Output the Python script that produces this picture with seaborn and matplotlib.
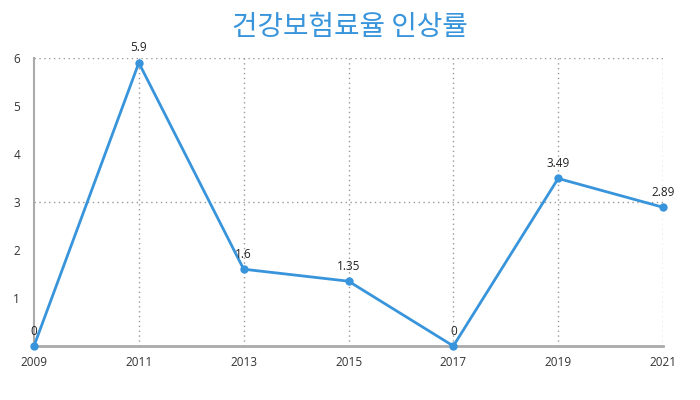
import matplotlib
matplotlib.use("Agg")
import matplotlib.pyplot as plt
import seaborn as sns
import pandas as pd

years = [2009, 2011, 2013, 2015, 2017, 2019, 2021]
rates = [0, 5.9, 1.6, 1.35, 0, 3.49, 2.89]
labels = ["0", "5.9", "1.6", "1.35", "0", "3.49", "2.89"]
title = "건강보험료율 인상률"

sns.set_style("white")
plt.rcParams['font.family'] = ['Open Sans', 'Noto Sans CJK KR', 'DejaVu Sans']

color = "#3894db"
df = pd.DataFrame({"year": years, "rate": rates})

fig = plt.figure(figsize=(7, 4), dpi=100)
ax = fig.add_axes([34/700, 1-346/400, (663-34)/700, (346-58)/400])

sns.lineplot(data=df, x="year", y="rate", ax=ax, color=color, linewidth=2,
             marker="o", markersize=6, markeredgewidth=0, clip_on=False, zorder=5)

for x, y, t in zip(years, rates, labels):
    ax.annotate(t, (x, y), xytext=(0, 6), textcoords="offset points",
                ha="center", va="bottom", fontsize=8.5, color="#222222", zorder=6)

ax.set_xlim(2009, 2021)
ax.set_ylim(0, 6)
ax.set_xticks(years)
ax.set_xticklabels([str(y) for y in years])
ax.set_yticks([1, 2, 3, 4, 5, 6])
ax.set_xlabel("")
ax.set_ylabel("")

for x in years[1:]:
    ax.axvline(x, color="#999999", linestyle=(0, (1, 2.5)), linewidth=1, zorder=1)
for y in [3, 6]:
    ax.axhline(y, color="#999999", linestyle=(0, (1, 2.5)), linewidth=1, zorder=1)

for s in ["top", "right"]:
    ax.spines[s].set_visible(False)
ax.spines["left"].set_color("#aaaaaa")
ax.spines["left"].set_linewidth(1.5)
ax.spines["bottom"].set_color("#aaaaaa")
ax.spines["bottom"].set_linewidth(2)

ax.tick_params(axis="both", labelsize=8.5, colors="#333333", length=2, width=0.8)
ax.tick_params(axis="y", pad=8, color="#cccccc")
ax.tick_params(axis="x", length=0, pad=7)

fig.text(0.5, 1-27/400, title, ha="center", va="center", fontsize=20,
         color=color, family=['Noto Sans CJK KR', 'DejaVu Sans'])

fig.savefig("out.png", dpi=100)
